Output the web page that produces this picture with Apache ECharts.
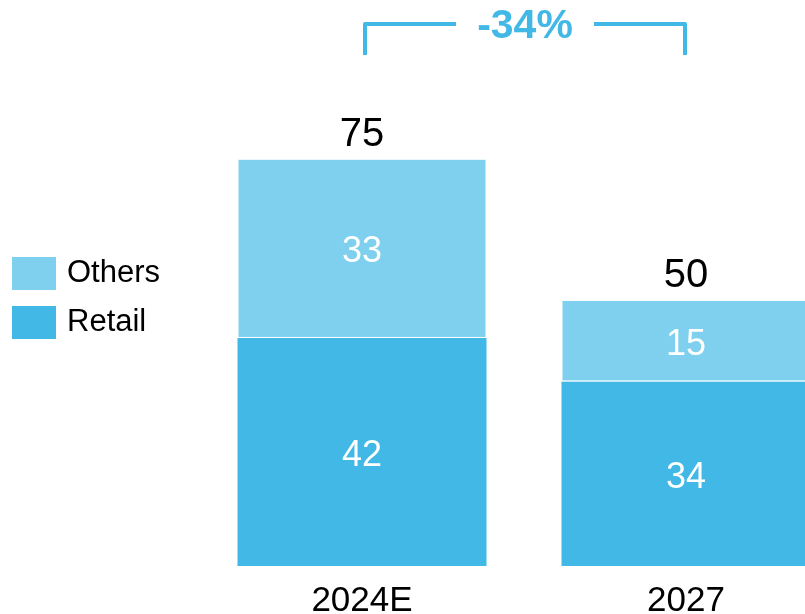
<!DOCTYPE html>
<html>
<head>
<meta charset="utf-8">
<script src="https://cdn.jsdelivr.net/npm/echarts@6/dist/echarts.min.js"></script>
<style>
  html, body { margin: 0; padding: 0; background: #fff; }
  #chart { width: 805px; height: 614px; }
</style>
</head>
<body>
<div id="chart"></div>
<script>
// Stacked volumes per period
const categories = ['2024E', '2027'];
const retail = [42, 34];
const others = [33, 15];
const totalLabels = ['75', '50'];
const changeLabel = '-34%';

const COLOR_RETAIL = '#41b8e5';
const COLOR_OTHERS = '#7ed0ee';
const FONT = '"Liberation Sans", Arial, sans-serif';

const stackTops = categories.map((_, i) => retail[i] + others[i]);

const chart = echarts.init(document.getElementById('chart'), null, { renderer: 'canvas' });

const segLabel = {
  show: true, position: 'inside', offset: [0, 4],
  color: '#fff', fontFamily: FONT, fontSize: 36
};

const option = {
  animation: false,
  backgroundColor: '#fff',
  textStyle: { fontFamily: FONT },
  grid: { left: 200, width: 648, top: 23, bottom: 48, containLabel: false, outerBoundsMode: 'none' },
  legend: {
    data: ['Others', 'Retail'],
    orient: 'vertical',
    left: 12,
    top: 253,
    padding: 0,
    itemWidth: 44,
    itemHeight: 33,
    itemGap: 8,
    icon: 'rect',
    itemStyle: { borderWidth: 0 },
    textStyle: {
      fontFamily: FONT, fontSize: 31, color: '#000',
      lineHeight: 33, padding: [8, 0, 0, 6]
    }
  },
  xAxis: {
    type: 'category',
    data: categories,
    axisLine: { show: false },
    axisTick: { show: false },
    axisLabel: { fontFamily: FONT, fontSize: 35, color: '#000', margin: 18 }
  },
  yAxis: {
    type: 'value',
    min: 0,
    max: 100,
    show: false,
    splitLine: { show: false }
  },
  series: [
    {
      name: 'Retail',
      type: 'bar',
      stack: 'vol',
      barWidth: 249,
      data: retail,
      itemStyle: { color: COLOR_RETAIL },
      label: segLabel
    },
    {
      name: 'Others',
      type: 'bar',
      stack: 'vol',
      barWidth: 249,
      data: others,
      itemStyle: { color: COLOR_OTHERS, borderColor: '#fff', borderWidth: 1 },
      label: segLabel
    },
    {
      name: 'Total',
      type: 'scatter',
      data: stackTops,
      symbolSize: 0,
      silent: true,
      itemStyle: { opacity: 1 },
      label: {
        show: true,
        position: 'top',
        distance: 4,
        color: '#000',
        fontFamily: FONT,
        fontSize: 40,
        formatter: p => totalLabels[p.dataIndex]
      }
    }
  ]
};

chart.setOption(option);

// Bracket spanning both bars with the change label in the gap
const x0 = chart.convertToPixel({ xAxisIndex: 0 }, categories[0]) + 3;
const x1 = chart.convertToPixel({ xAxisIndex: 0 }, categories[1]) - 1;
const mid = (x0 + x1) / 2;
const yTop = 24, yBot = 55, gap = 69;
const lineStyle = { stroke: COLOR_RETAIL, lineWidth: 4, fill: null, lineCap: 'butt', lineJoin: 'round' };

chart.setOption({
  graphic: [
    {
      type: 'polyline',
      shape: { points: [[x0, yBot], [x0, yTop], [mid - gap, yTop]] },
      style: lineStyle
    },
    {
      type: 'polyline',
      shape: { points: [[mid + gap, yTop], [x1, yTop], [x1, yBot]] },
      style: lineStyle
    },
    {
      type: 'text',
      x: mid,
      y: yTop + 3,
      style: {
        text: changeLabel,
        fill: COLOR_RETAIL,
        font: `bold 41px ${FONT}`,
        align: 'center',
        verticalAlign: 'middle'
      }
    }
  ]
});
</script>
</body>
</html>
